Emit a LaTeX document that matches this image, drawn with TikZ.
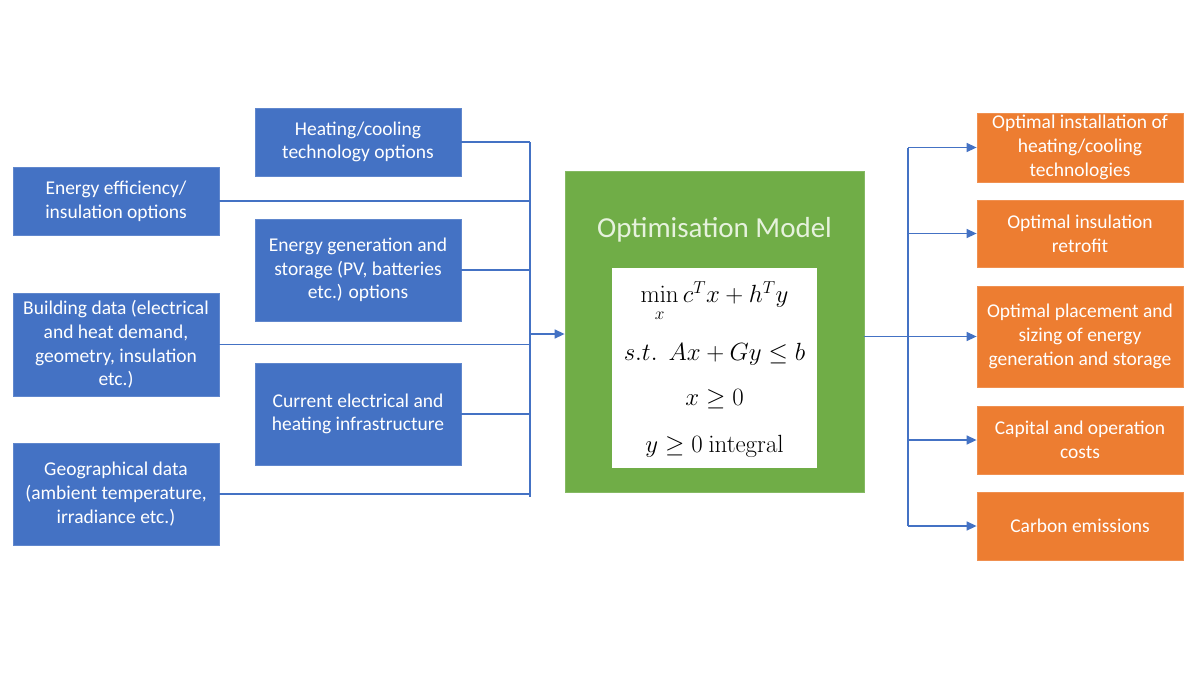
\documentclass[tikz,border=0pt]{standalone}
\usepackage[no-math]{fontspec}
\setmainfont{Carlito}
\usetikzlibrary{arrows.meta}
\definecolor{obl}{HTML}{4472C4}
\definecolor{ogr}{HTML}{70AD47}
\definecolor{oor}{HTML}{ED7D31}
\definecolor{ttl}{HTML}{E6F2DD}
\tikzset{
  bluebox/.style={rectangle, fill=obl, draw=obl!85!white, line width=0.8pt, text=white, align=center, inner sep=0pt, minimum width=206pt, font=\fontsize{19.5}{23.7}\selectfont},
  orbox/.style={rectangle, fill=oor, draw=oor!85!white, line width=0.8pt, text=white, align=center, inner sep=0pt, minimum width=206pt, font=\fontsize{19.5}{23.7}\selectfont},
  conn/.style={draw=obl, line width=1.4pt},
  arr/.style={conn, -{Triangle[length=10pt,width=9pt]}},
  mathline/.style={font=\fontsize{25.5}{30}\selectfont, inner sep=0pt}
}
\begin{document}
\begin{tikzpicture}[x=1pt,y=-1pt]
\useasboundingbox[fill=white] (0,0) rectangle (1200,675);
% inputs
\node[bluebox, minimum height=68pt] (heat) at (358,142) {Heating/cooling\\technology options};
\node[bluebox, minimum height=68pt] (eff) at (116,201) {Energy efficiency/\\insulation options};
\node[bluebox, minimum height=102pt] (gen) at (358,270) {Energy generation and\\storage (PV, batteries\\etc.) options};
\node[bluebox, minimum height=103pt] (bld) at (116,344.5) {Building data (electrical\\and heat demand,\\geometry, insulation\\etc.)};
\node[bluebox, minimum height=102pt] (cur) at (358,414) {Current electrical and\\heating infrastructure};
\node[bluebox, minimum height=102pt] (geo) at (116,494) {Geographical data\\(ambient temperature,\\irradiance etc.)};
% model
\node[rectangle, fill=ogr, draw=ogr!85!white, line width=0.8pt, minimum width=299pt, minimum height=321pt, inner sep=0pt] (model) at (714.5,331.5) {};
\node[text=ttl, font=\fontsize{29}{34}\selectfont, inner sep=0pt] (title) at (714.5,230) {Optimisation Model};
\node[rectangle, fill=white, minimum width=205pt, minimum height=200pt, inner sep=0pt] (formula) at (714.5,368) {};
\node[mathline] (m1) at (714.5,301) {$\min\limits_{\rule{0pt}{1.3ex}x} c^T x + h^T y$};
\node[mathline] (m2) at (714.5,354) {$s.t.\;\, Ax + Gy \leq b$};
\node[mathline] (m3) at (714.5,399) {$x \geq 0$};
\node[mathline] (m4) at (714.5,446) {$y \geq 0\ \mathrm{integral}$};
% outputs
\node[orbox, minimum height=69pt] (o1) at (1080,147.5) {Optimal installation of\\heating/cooling\\technologies};
\node[orbox, minimum height=67pt] (o2) at (1080,233.5) {Optimal insulation\\retrofit};
\node[orbox, minimum height=101pt] (o3) at (1080,336.5) {Optimal placement and\\sizing of energy\\generation and storage};
\node[orbox, minimum height=68pt] (o4) at (1080,440) {Capital and operation\\costs};
\node[orbox, minimum height=68pt] (o5) at (1080,526) {Carbon emissions};
% input bus
\coordinate (bt) at (530,142);
\coordinate (bb) at (530,497);
\coordinate (bin) at (530,334);
\draw[conn] (bt) -- (bb);
\draw[conn] (heat.east) -- (heat.east -| bt);
\draw[conn] (eff.east) -- (eff.east -| bt);
\draw[conn] (gen.east) -- (gen.east -| bt);
\draw[conn] (bld.east) -- (bld.east -| bt);
\draw[conn] (cur.east) -- (cur.east -| bt);
\draw[conn] (geo.east) -- (geo.east -| bt);
\draw[arr] (bin) -- (bin -| model.west);
% output bus
\coordinate (rt) at (908,147.5);
\coordinate (rb) at (908,526);
\draw[conn] (rt) -- (rb);
\draw[conn] (model.east |- o3.west) -- (rt |- o3.west);
\draw[arr] (o1.west -| rt) -- (o1.west);
\draw[arr] (o2.west -| rt) -- (o2.west);
\draw[arr] (o3.west -| rt) -- (o3.west);
\draw[arr] (o4.west -| rt) -- (o4.west);
\draw[arr] (o5.west -| rt) -- (o5.west);
\end{tikzpicture}
\end{document}
